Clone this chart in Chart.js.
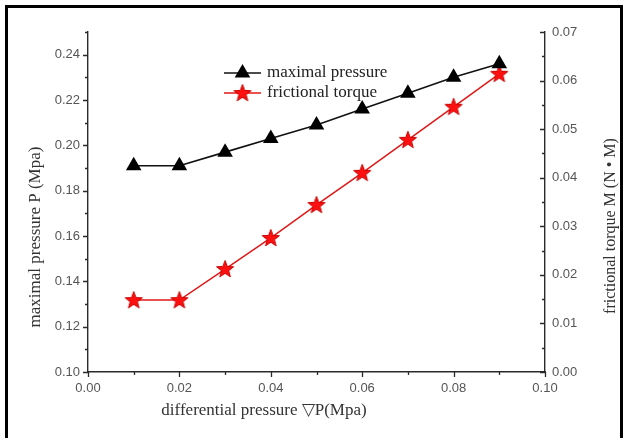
<!DOCTYPE html>
<html><head><meta charset="utf-8">
<script src="https://cdn.jsdelivr.net/npm/chart.js@4/dist/chart.umd.min.js"></script>
<style>html,body{margin:0;padding:0;background:#fff;}#wrap{width:627px;height:438px;}</style>
</head><body><div id="wrap"><canvas id="c" width="627" height="438"></canvas></div>
<script>
// ---- data ----
const diffPressure = [0.01, 0.02, 0.03, 0.04, 0.05, 0.06, 0.07, 0.08, 0.09];
const maximalPressure = [0.191, 0.191, 0.197, 0.203, 0.209, 0.216, 0.223, 0.230, 0.236];
const frictionalTorque = [0.0148, 0.0148, 0.0212, 0.0276, 0.0344, 0.0410, 0.0478, 0.0546, 0.0614];
const xTicks = [0.00, 0.02, 0.04, 0.06, 0.08, 0.10];
const xMinorTicks = [0.01, 0.03, 0.05, 0.07, 0.09];
const leftTicks = [0.10, 0.12, 0.14, 0.16, 0.18, 0.20, 0.22, 0.24];
const leftMinorTicks = [0.11, 0.13, 0.15, 0.17, 0.19, 0.21, 0.23, 0.25];
const rightTicks = [0.00, 0.01, 0.02, 0.03, 0.04, 0.05, 0.06, 0.07];
const rightMinorTicks = [0.005, 0.015, 0.025, 0.035, 0.045, 0.055, 0.065];
const seriesNames = ['maximal pressure', 'frictional torque'];
const xTitle = 'differential pressure \u25BDP(Mpa)';
const leftTitle = 'maximal pressure P (Mpa)';
const rightTitle = 'frictional torque M (N \u2022 M)';

// ---- star marker ----
function makeStar(size) {
  const c = document.createElement('canvas');
  c.width = size; c.height = size;
  const g = c.getContext('2d');
  const cx = size / 2, cy = size / 2 + 0.5, R = size / 2 - 1, r = R * 0.42;
  g.beginPath();
  for (let i = 0; i < 10; i++) {
    const a = -Math.PI / 2 + i * Math.PI / 5;
    const rr = i % 2 === 0 ? R : r;
    g.lineTo(cx + rr * Math.cos(a), cy + rr * Math.sin(a));
  }
  g.closePath();
  g.fillStyle = '#ff1010';
  g.fill();
  g.strokeStyle = '#c80000';
  g.lineWidth = 1;
  g.stroke();
  return c;
}
const starImg = makeStar(20);

const SANS = "'Liberation Sans', Arial, sans-serif";
const SERIF = "'Liberation Serif', 'Times New Roman', serif";
const AXIS_COLOR = '#2a2a2a';
const LABEL_COLOR = '#555';

const decorPlugin = {
  id: 'decor',
  beforeDraw(chart) {
    const ctx = chart.ctx;
    ctx.save();
    ctx.fillStyle = '#fff';
    ctx.fillRect(0, 0, chart.width, chart.height);
    ctx.strokeStyle = '#000';
    ctx.lineWidth = 3;
    ctx.beginPath();
    ctx.moveTo(6.5, 440);
    ctx.lineTo(6.5, 6.5);
    ctx.lineTo(621.5, 6.5);
    ctx.lineTo(621.5, 440);
    ctx.stroke();
    ctx.restore();
  },
  afterDraw(chart) {
    const ctx = chart.ctx;
    const sx = chart.scales.x, sy = chart.scales.y, sy1 = chart.scales.y1;
    ctx.save();
    ctx.strokeStyle = AXIS_COLOR;
    ctx.lineWidth = 1.3;
    ctx.beginPath();
    const xb = sx.top;
    xTicks.forEach(v => { const p = Math.round(sx.getPixelForValue(v)) + 0.5; ctx.moveTo(p, xb); ctx.lineTo(p, xb + 5); });
    xMinorTicks.forEach(v => { const p = Math.round(sx.getPixelForValue(v)) + 0.5; ctx.moveTo(p, xb); ctx.lineTo(p, xb + 3); });
    const yl = sy.right;
    leftTicks.forEach(v => { const p = Math.round(sy.getPixelForValue(v)) + 0.5; ctx.moveTo(yl, p); ctx.lineTo(yl - 5, p); });
    leftMinorTicks.forEach(v => { const p = Math.round(sy.getPixelForValue(v)) + 0.5; ctx.moveTo(yl, p); ctx.lineTo(yl - 3, p); });
    const yr = sy1.left;
    rightTicks.forEach(v => { const p = Math.round(sy1.getPixelForValue(v)) + 0.5; ctx.moveTo(yr, p); ctx.lineTo(yr - 5, p); });
    rightMinorTicks.forEach(v => { const p = Math.round(sy1.getPixelForValue(v)) + 0.5; ctx.moveTo(yr, p); ctx.lineTo(yr - 3, p); });
    ctx.stroke();

    // axis titles
    ctx.fillStyle = '#333';
    ctx.textAlign = 'center';
    ctx.textBaseline = 'middle';
    ctx.font = '17px ' + SERIF;
    ctx.fillText(xTitle, 264, 411);
    ctx.save();
    ctx.translate(36, 237);
    ctx.rotate(-Math.PI / 2);
    ctx.fillText(leftTitle, 0, 0);
    ctx.restore();
    ctx.font = '16px ' + SERIF;
    ctx.save();
    ctx.translate(611, 226);
    ctx.rotate(-Math.PI / 2);
    ctx.fillText(rightTitle, 0, 0);
    ctx.restore();

    // legend
    const rows = [73, 93];
    chart.data.datasets.forEach((ds, i) => {
      const y = rows[i];
      ctx.strokeStyle = ds.borderColor;
      ctx.lineWidth = ds.borderWidth;
      ctx.beginPath();
      ctx.moveTo(224, y); ctx.lineTo(261, y);
      ctx.stroke();
      if (ds.pointStyle === 'triangle') {
        const r = ds.pointRadius;
        ctx.fillStyle = ds.pointBackgroundColor;
        ctx.beginPath();
        ctx.moveTo(242.5, y - r);
        ctx.lineTo(242.5 + r * 0.866, y + r * 0.5);
        ctx.lineTo(242.5 - r * 0.866, y + r * 0.5);
        ctx.closePath();
        ctx.fill();
      } else {
        ctx.drawImage(ds.pointStyle, 242.5 - ds.pointStyle.width / 2, y - ds.pointStyle.height / 2);
      }
      ctx.fillStyle = '#222';
      ctx.font = '17px ' + SERIF;
      ctx.textAlign = 'left';
      ctx.textBaseline = 'middle';
      ctx.fillText(ds.label, 267, y);
    });
    ctx.restore();
  }
};

new Chart(document.getElementById('c'), {
  type: 'line',
  data: {
    datasets: [
      {
        label: seriesNames[0],
        data: diffPressure.map((x, i) => ({ x, y: maximalPressure[i] })),
        yAxisID: 'y',
        borderColor: '#111',
        borderWidth: 1.6,
        pointStyle: 'triangle',
        pointRadius: 9,
        pointBackgroundColor: '#000',
        pointBorderColor: '#000',
        pointBorderWidth: 0
      },
      {
        label: seriesNames[1],
        data: diffPressure.map((x, i) => ({ x, y: frictionalTorque[i] })),
        yAxisID: 'y1',
        borderColor: '#e01818',
        borderWidth: 1.5,
        pointStyle: starImg,
        pointRadius: 10
      }
    ]
  },
  options: {
    responsive: false,
    devicePixelRatio: 1,
    animation: false,
    layout: { padding: { top: 32, left: 0, right: 0, bottom: 0 } },
    plugins: { legend: { display: false }, tooltip: { enabled: false } },
    scales: {
      x: {
        type: 'linear', position: 'bottom', min: 0, max: 0.1,
        afterBuildTicks: s => { s.ticks = xTicks.map(v => ({ value: v })); },
        afterFit: s => { s.height = 66; },
        ticks: { callback: v => v.toFixed(2), font: { family: SANS, size: 13 }, color: LABEL_COLOR, padding: 4, maxRotation: 0, autoSkip: false },
        grid: { drawOnChartArea: false, drawTicks: true, tickLength: 5, tickColor: 'transparent' },
        border: { color: AXIS_COLOR, width: 1.4 }
      },
      y: {
        type: 'linear', position: 'left', min: 0.10, max: 0.25,
        afterBuildTicks: s => { s.ticks = leftTicks.map(v => ({ value: v })); },
        afterFit: s => { s.width = 88; },
        ticks: { callback: v => v.toFixed(2), font: { family: SANS, size: 13 }, color: LABEL_COLOR, padding: 3, autoSkip: false },
        grid: { drawOnChartArea: false, drawTicks: true, tickLength: 5, tickColor: 'transparent' },
        border: { color: AXIS_COLOR, width: 1.4 }
      },
      y1: {
        type: 'linear', position: 'right', min: 0, max: 0.07,
        afterBuildTicks: s => { s.ticks = rightTicks.map(v => ({ value: v })); },
        afterFit: s => { s.width = 82; },
        ticks: { callback: v => v.toFixed(2), font: { family: SANS, size: 13 }, color: LABEL_COLOR, padding: 4, autoSkip: false },
        grid: { drawOnChartArea: false, drawTicks: true, tickLength: 3, tickColor: 'transparent' },
        border: { color: AXIS_COLOR, width: 1.4 }
      }
    }
  },
  plugins: [decorPlugin]
});
</script>
</body></html>
